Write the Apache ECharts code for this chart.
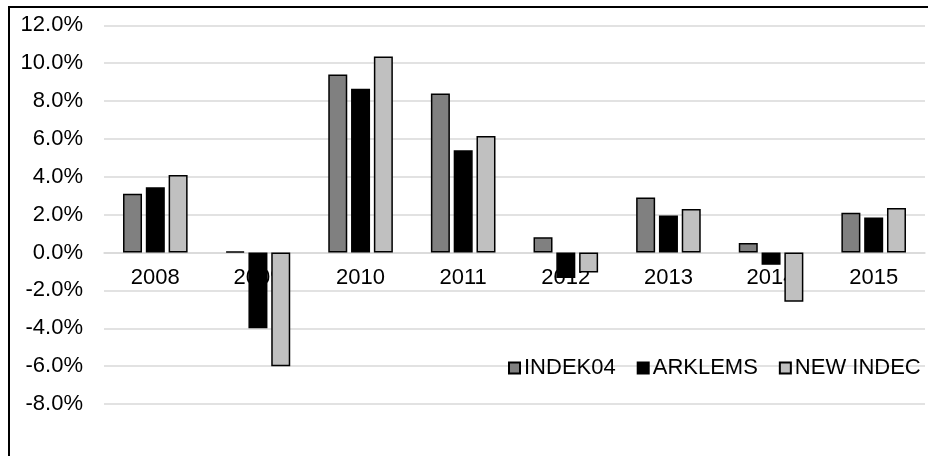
<!DOCTYPE html>
<html>
<head>
<meta charset="utf-8">
<script src="https://cdn.jsdelivr.net/npm/echarts@6/dist/echarts.min.js"></script>
<style>
html,body{margin:0;padding:0;background:#fff;}
#chart{width:928px;height:456px;}
</style>
</head>
<body>
<div id="chart"></div>
<script>
const categories = ['2008','2009','2010','2011','2012','2013','2014','2015'];
const indek04 = [3.1, 0.05, 9.4, 8.4, 0.8, 2.9, 0.5, 2.1];
const arklems = [3.45, -4.0, 8.65, 5.4, -1.35, 1.95, -0.65, 1.85];
const newIndec = [4.1, -6.0, 10.35, 6.15, -1.05, 2.3, -2.6, 2.35];
const seriesNames = ['INDEK04','ARKLEMS','NEW INDEC'];
const seriesColors = ['#808080','#000000','#c0c0c0'];

const FONT = 'Liberation Sans, Arial, sans-serif';
const FS = 22;
const chart = echarts.init(document.getElementById('chart'), null, {renderer:'canvas'});
const dataSets = [indek04, arklems, newIndec];
chart.setOption({
  animation: false,
  backgroundColor: '#fff',
  textStyle: {fontFamily: FONT},
  graphic: [{
    type: 'rect', z: 100,
    shape: {x: 9, y: 7, width: 1000, height: 1000},
    style: {fill: 'none', stroke: '#000', lineWidth: 2}
  }],
  grid: {left: 104, right: 3, top: 25.3, bottom: 52, containLabel: false},
  legend: {
    left: 503, top: 352,
    itemWidth: 11, itemHeight: 11, itemGap: 21,
    icon: 'rect',
    textStyle: {fontSize: FS, color: '#000', fontFamily: FONT, padding: [0,0,0,-1]},
    data: seriesNames
  },
  xAxis: {
    type: 'category', data: categories,
    offset: -151.5,
    axisLine: {onZero: false, lineStyle: {color: '#d9d9d9', width: 1.5}},
    axisTick: {show: false},
    axisLabel: {fontSize: FS, color: '#000', margin: 14, fontFamily: FONT},
    splitLine: {show: false}
  },
  yAxis: {
    type: 'value', min: -8, max: 12, interval: 2,
    axisLine: {show: false}, axisTick: {show: false},
    axisLabel: {fontSize: FS, color: '#000', margin: 21, fontFamily: FONT,
      formatter: v => v.toFixed(1) + '%'},
    splitLine: {lineStyle: {color: '#d9d9d9', width: 1.5}}
  },
  series: dataSets.map((d, i) => ({
    name: seriesNames[i], type: 'bar', data: d,
    barWidth: 19, barGap: '20%',
    itemStyle: {color: seriesColors[i], borderColor: '#000', borderWidth: 1.5}
  }))
});
</script>
</body>
</html>
